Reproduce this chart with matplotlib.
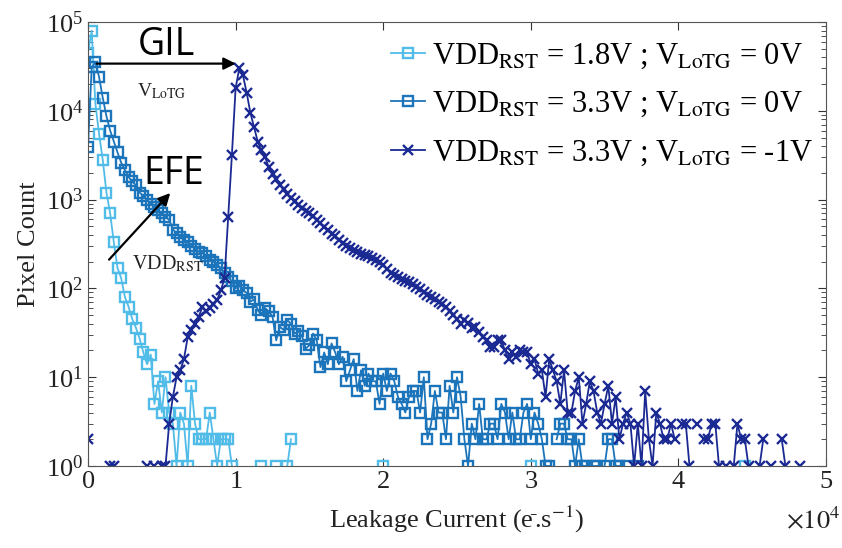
import matplotlib
matplotlib.use("Agg")
import matplotlib.pyplot as plt
from matplotlib.ticker import ScalarFormatter, LogLocator
import numpy as np

plt.rcParams["font.family"] = ["Liberation Serif", "DejaVu Serif"]
plt.rcParams["mathtext.fontset"] = "stix"

# histogram bin width (e-/s); bin k is centred at k * BIN_WIDTH
BIN_WIDTH = 250

# VDD_RST = 1.8 V ; V_LoTG = 0 V
counts_18_0 = [
    45000, 80000, 12000, 5500, 2800, 1200, 700, 330, 170, 130,
    80, 62, 45, 36, 27, 19, 14, 18, 5, 9,
    4, 10, 4, 3, 1, 4, 3, 1, 8, 3,
    2, 2, 2, 4, 2, 1, 2, 2, 2, 1,
    0, 0, 0, 0, 0, 0, 0, 1, 0, 0,
    0, 1, 0, 0, 1, 2, 0, 0, 0, 0,
    0, 0, 0, 0, 0, 0, 0, 0, 0, 0,
    0, 0, 0, 0, 0, 0, 0, 0, 0, 0,
    1, 0, 0, 0, 0, 0, 0, 0, 0, 0,
    0, 0, 0, 0, 0, 0, 0, 0, 0, 0,
    0, 0, 0, 0, 0, 0, 0, 0, 0, 0,
    0, 0, 0, 0, 0, 0, 0, 0, 0, 0,
    1, 0, 0, 0, 0, 0, 0, 0, 0, 0,
    0, 0, 0, 0, 0, 0, 0, 0, 0, 0,
    0, 0, 0, 0, 0, 0, 0, 0, 0, 0,
    0, 0, 0, 0, 0, 0, 0, 0, 0, 0,
    0, 0, 0, 0, 0, 0, 0, 0, 0, 0,
    0, 0, 0, 0, 0, 0, 0, 0, 1,
]

# VDD_RST = 3.3 V ; V_LoTG = 0 V
counts_33_0 = [
    3900, 31000, 35000, 24000, 14000, 8700, 6000, 4500, 3400, 2600,
    2150, 1800, 1600, 1450, 1200, 1100, 1000, 900, 830, 760,
    700, 640, 590, 460, 420, 380, 350, 330, 300, 280,
    260, 250, 230, 210, 200, 185, 170, 150, 135, 120,
    100, 107, 95, 89, 71, 75, 57, 50, 60, 55,
    48, 26, 37, 34, 44, 40, 31, 33, 29, 21,
    23, 31, 26, 13, 19, 14, 24, 19, 14, 17,
    9, 12, 16, 7, 12, 8, 11, 9, 9, 5,
    11, 7, 11, 9, 6, 5, 4, 6, 7, 7,
    4, 10, 2, 3, 7, 4, 4, 2, 8, 4,
    10, 6, 2, 1, 3, 2, 5, 2, 2, 3,
    3, 2, 5, 4, 2, 4, 2, 2, 4, 5,
    2, 4, 3, 2, 1, 1, 0, 2, 3, 3,
    2, 2, 1, 2, 1, 1, 0, 1, 1, 0,
    1, 2, 2, 1, 1, 0, 1, 0, 0, 1,
]

# VDD_RST = 3.3 V ; V_LoTG = -1 V
counts_33_m1 = [
    2, 0, 0, 0, 0, 0, 1, 1, 0, 0,
    0, 0, 0, 0, 0, 0, 1, 0, 1, 0,
    1, 1, 3, 6, 10, 12, 16, 28, 34, 40,
    48, 62, 55, 60, 66, 74, 95, 130, 640, 3200,
    18000, 30000, 25000, 16000, 9500, 6500, 4500, 3600, 3000, 2300,
    1950, 1700, 1450, 1300, 1150, 1050, 960, 880, 810, 750,
    700, 650, 590, 540, 490, 450, 415, 385, 350, 325,
    300, 285, 270, 255, 245, 235, 230, 220, 210, 200,
    185, 165, 150, 140, 135, 128, 122, 118, 112, 105,
    98, 90, 85, 80, 76, 70, 66, 62, 56, 50,
    45, 40, 44, 41, 36, 37, 32, 28, 26, 22,
    22, 26, 26, 20, 16, 19, 17, 20, 19, 19,
    14, 16, 11, 12, 6, 16, 12, 9, 5, 12,
    4, 4, 7, 10, 3, 5, 9, 7, 4, 3,
    5, 8, 3, 6, 2, 3, 4, 3, 1, 3,
    1, 7, 2, 1, 4, 3, 2, 2, 3, 2,
    0, 3, 3, 1, 0, 3, 0, 2, 2, 3,
    3, 1, 0, 1, 0, 1, 3, 2, 2, 1,
    0, 0, 1, 2, 0, 1, 0, 0, 2, 1,
    0, 0, 0, 1,
]

labels = [
    r"VDD$_{\mathrm{RST}}$ = 1.8V ; V$_{\mathrm{LoTG}}$ = 0V",
    r"VDD$_{\mathrm{RST}}$ = 3.3V ; V$_{\mathrm{LoTG}}$ = 0V",
    r"VDD$_{\mathrm{RST}}$ = 3.3V ; V$_{\mathrm{LoTG}}$ = -1V",
]
colors = ["#52bce9", "#1c74bb", "#1b2a93"]
markers = ["s", "s", "x"]

fig = plt.figure(figsize=(8.42, 5.48), dpi=100)
ax = fig.add_axes([88 / 842, 82 / 548, 738 / 842, 444 / 548])

for counts, lab, col, mk in zip([counts_18_0, counts_33_0, counts_33_m1],
                                labels, colors, markers):
    c = np.array(counts, dtype=float)
    x = np.arange(len(c)) * BIN_WIDTH
    c[c <= 0] = np.nan  # empty bins leave gaps on the log axis
    if mk == "s":
        ax.plot(x, c, color=col, marker=mk, ms=7, mfc="none", mew=1.7,
                lw=1.3, label=lab)
    else:
        ax.plot(x, c, color=col, marker=mk, ms=7, mew=1.7, lw=1.3, label=lab)

ax.set_yscale("log")
ax.set_ylim(1, 1e5)
ax.set_xlim(0, 5e4)
ax.set_xticks([0, 1e4, 2e4, 3e4, 4e4, 5e4])
fmt = ScalarFormatter(useMathText=True)
fmt.set_powerlimits((0, 0))
ax.xaxis.set_major_formatter(fmt)
ax.xaxis.get_offset_text().set_visible(False)
ax.yaxis.set_minor_locator(LogLocator(base=10, subs=np.arange(2, 10)))

ax.tick_params(which="both", direction="in", top=True, right=True,
               labelsize=19, colors="#333333", labelcolor="#222222")
ax.tick_params(which="major", length=6)
ax.tick_params(which="minor", length=3.5)
for sp in ax.spines.values():
    sp.set_color("#555555")
    sp.set_linewidth(0.8)

# exponent of the x tick labels, drawn under the right end of the axis
fig.text(0.998, 0.036, r"$\times10^{4}$", fontsize=19, ha="right",
         va="baseline", color="#222222")

ax.set_xlabel(r"Leakage Current (e$^{\bar{}}$.s$^{-1}$)", fontsize=19,
              color="#222222", labelpad=8)
ax.set_ylabel("Pixel Count", fontsize=19, color="#222222", labelpad=4)

ax.legend(loc="upper right", bbox_to_anchor=(1.008, 0.997), frameon=False,
          fontsize=22, handlelength=1.1, handletextpad=0.25,
          labelspacing=0.62, borderaxespad=0.2, numpoints=1)

# annotations
ax.annotate("", xy=(1.02e4, 3.4e4), xytext=(0.04e4, 3.4e4),
            arrowprops=dict(arrowstyle="-|>", color="black", lw=1.6,
                            mutation_scale=18))
ax.text(0.53e4, 5.5e4, "GIL", family="Open Sans", fontsize=27,
        ha="center", va="center")
ax.text(0.50e4, 1.65e4, r"V$_{\mathrm{LoTG}}$", fontsize=14,
        ha="center", va="center", color="#222222")
ax.annotate("", xy=(0.57e4, 1250), xytext=(0.13e4, 200),
            arrowprops=dict(arrowstyle="-|>", color="black", lw=1.6,
                            mutation_scale=18))
ax.text(0.58e4, 1950, "EFE", family="Open Sans", fontsize=27,
        ha="center", va="center")
ax.text(0.30e4, 190, r"VDD$_{\mathrm{RST}}$", fontsize=14.5,
        ha="left", va="center", color="#222222")

fig.savefig("out.png", dpi=100)
